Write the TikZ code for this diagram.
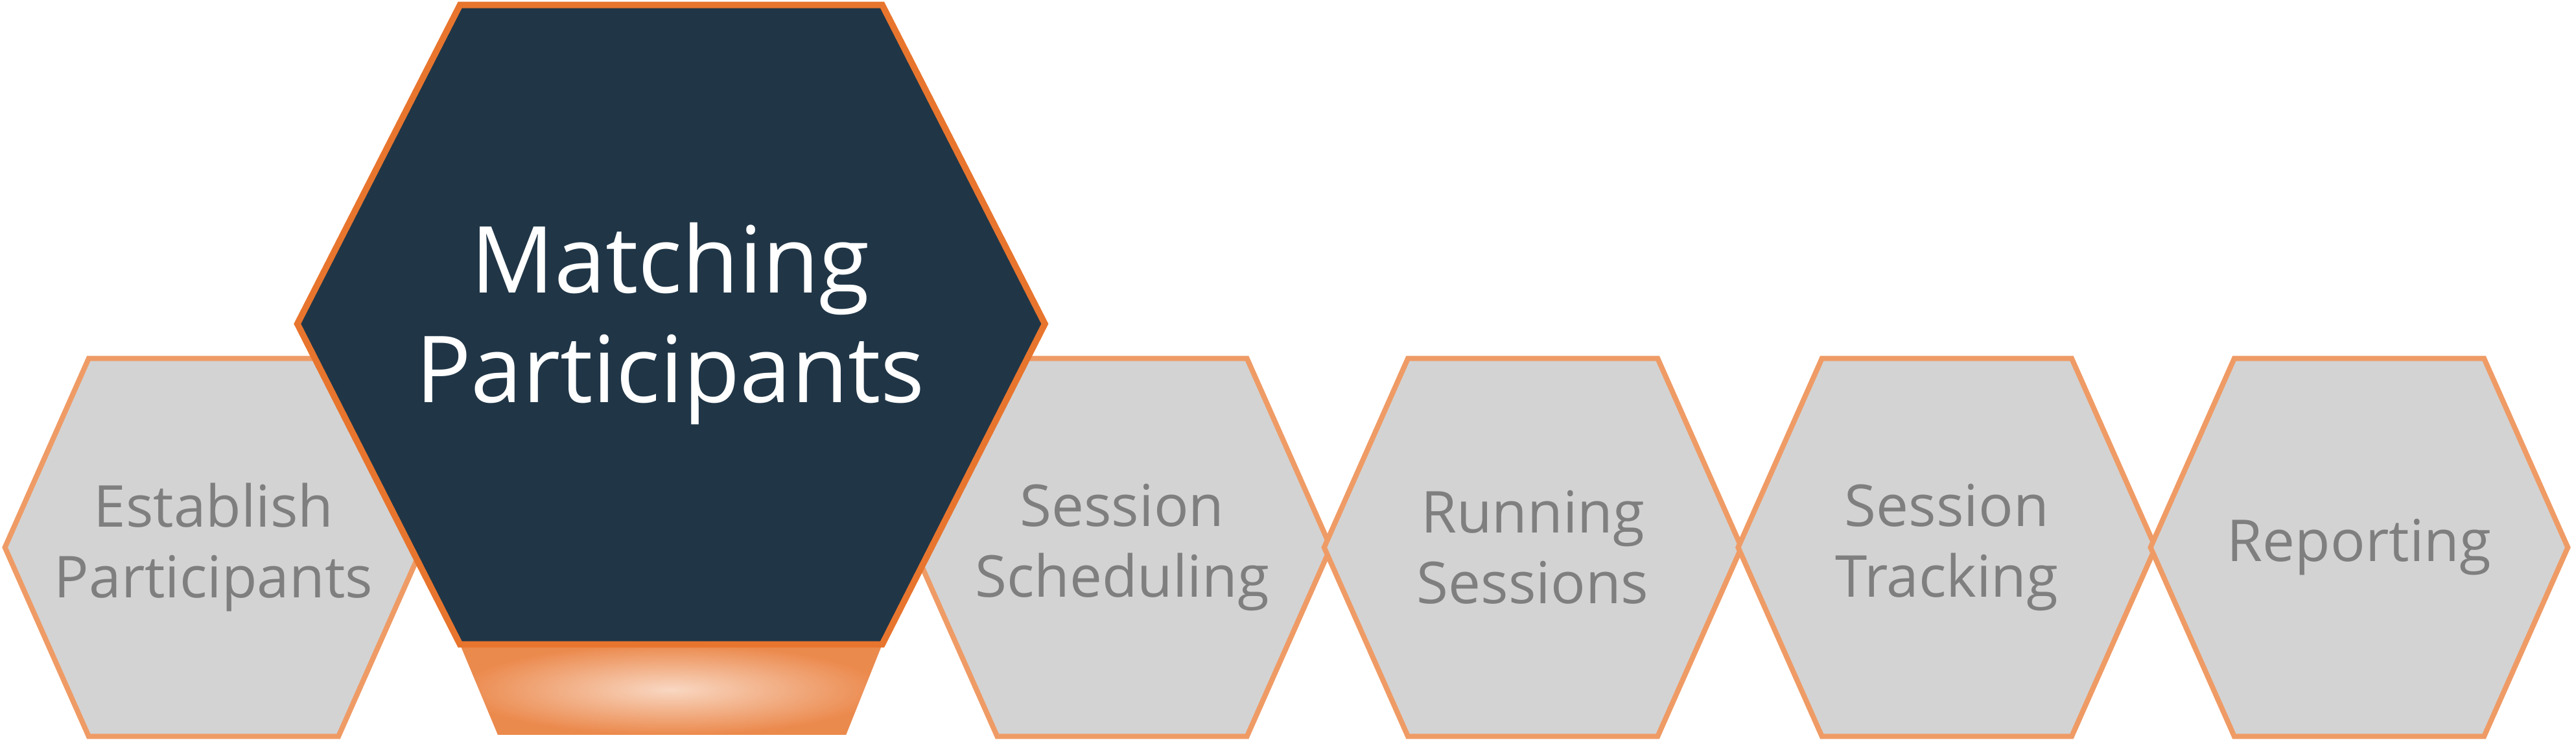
\documentclass[tikz,border=0pt]{standalone}
\usepackage{fontspec}
\setmainfont{Open Sans}
\definecolor{hexgrey}{HTML}{D3D3D3}
\definecolor{hexline}{HTML}{EF9B66}
\definecolor{bigfill}{HTML}{203647}
\definecolor{bigline}{HTML}{E8752E}
\definecolor{txtgrey}{HTML}{7F7F7F}
\tikzset{
 smallhex/.style={fill=hexgrey,draw=hexline,line width=4.5pt,line join=miter},
 bighex/.style={fill=bigfill,draw=bigline,line width=5.5pt,line join=miter},
 smalltxt/.style={text=txtgrey,align=center,font=\fontsize{50pt}{61pt}\selectfont},
 bigtxt/.style={text=white,align=center,font=\fontsize{80pt}{95pt}\selectfont}
}
\begin{document}
\begin{tikzpicture}[x=0.05cm,y=-0.05cm]
\useasboundingbox (0,0) rectangle (1568,451);
\foreach \c/\n/\t in {130/h1/{Establish\\Participants},683/h3/{Session\\Scheduling},933/h4/{Running\\Sessions},1185/h5/{Session\\Tracking},1436/h6/{Reporting}}{
  \draw[smallhex] (\c-127,333) -- (\c-76,218) -- (\c+76,218) -- (\c+127,333) -- (\c+76,448) -- (\c-76,448) -- cycle;
  \node[smalltxt] (\n) at (\c,333) {\t};
}
\shade[inner color=hexline!40!white,outer color=bigline!85!white] (280,392) -- (537,392) -- (515,447) -- (303,447) -- cycle;
\draw[bighex] (181,197) -- (280,3) -- (537,3) -- (636,197) -- (537,392) -- (280,392) -- cycle;
\node[bigtxt] (h2) at (408,197) {Matching\\Participants};
\end{tikzpicture}
\end{document}
